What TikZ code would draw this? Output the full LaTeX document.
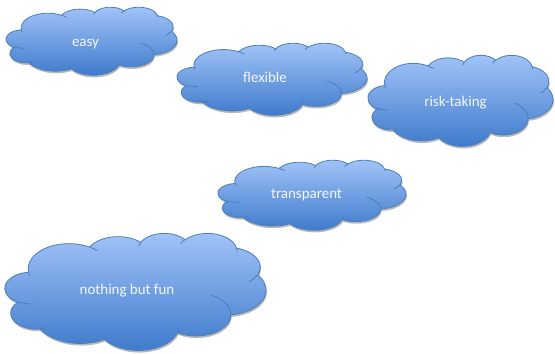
\documentclass[tikz,border=0pt]{standalone}
\usepackage{fontspec}
\setmainfont{Carlito}
\definecolor{cloudtop}{HTML}{A2C4F8}
\definecolor{cloudmid}{HTML}{7EA8EC}
\definecolor{cloudbot}{HTML}{3D79CB}
\definecolor{cloudline}{HTML}{4A7EBB}
\definecolor{cloudtext}{HTML}{F4F7FC}
\def\cloudpath{(3.9,14.37)
 arc[start angle=-187.746, delta angle=128.109, x radius=6.753, y radius=9.19]
 arc[start angle=-152.020, delta angle=106.572, x radius=5.333, y radius=7.267]
 arc[start angle=-153.488, delta angle=116.155, x radius=4.365, y radius=5.945]
 arc[start angle=-139.709, delta angle=129.497, x radius=4.857, y radius=6.595]
 arc[start angle=-74.767, delta angle=97.979, x radius=5.333, y radius=7.273]
 arc[start angle=-37.532, delta angle=119.394, x radius=6.775, y radius=9.22]
 arc[start angle=0.460, delta angle=121.521, x radius=5.785, y radius=7.867]
 arc[start angle=16.845, delta angle=129.410, x radius=6.752, y radius=9.215]
 arc[start angle=58.993, delta angle=91.206, x radius=7.72, y radius=10.543]
 arc[start angle=83.306, delta angle=139.803, x radius=4.36, y radius=5.918]
 arc[start angle=120.356, delta angle=143.756, x radius=4.345, y radius=5.945]
 -- cycle}
\def\cloudinner{(4.693,26.177) arc[start angle=85.546, delta angle=34.810, x radius=4.345, y radius=5.945]
 (6.928,34.899) arc[start angle=68.233, delta angle=15.073, x radius=4.36, y radius=5.918]
 (16.478,39.09) arc[start angle=146.255, delta angle=12.217, x radius=6.752, y radius=9.215]
 (28.827,34.751) arc[start angle=4.738, delta angle=12.107, x radius=6.752, y radius=9.215]
 (34.129,22.954) arc[start angle=-64.024, delta angle=64.484, x radius=5.785, y radius=7.867]
 (41.798,15.354) arc[start angle=23.212, delta angle=26.428, x radius=5.333, y radius=7.273]
 (38.324,5.426) arc[start angle=-10.212, delta angle=11.033, x radius=4.857, y radius=6.595]
 (29.078,3.952) arc[start angle=-156.284, delta angle=16.575, x radius=4.857, y radius=6.595]
 (22.141,4.72) arc[start angle=-167.727, delta angle=14.239, x radius=4.365, y radius=5.945]
 (14.0,5.192) arc[start angle=-59.637, delta angle=13.906, x radius=6.753, y radius=9.19]
 (4.127,15.789) arc[start angle=163.193, delta angle=9.061, x radius=6.753, y radius=9.19]}
\tikzset{
  cloudshadow/.style={fill=black, opacity=0.28},
  cloudbody/.style={top color=cloudtop, middle color=cloudmid, bottom color=cloudbot, draw=cloudline, line width=0.6pt},
  cloudfold/.style={draw=cloudline, line width=0.6pt},
  cloudlabel/.style={text=cloudtext, font=\fontsize{11.2}{13}\selectfont, anchor=base, inner sep=0pt}
}
\newcommand\drawcloud[4]{%
  \pgfmathsetmacro\cwx{#3*0.75/43.2}%
  \pgfmathsetmacro\chy{#4*0.75/43.2}%
  \begin{scope}[shift={(#1,#2)}, x=\cwx pt, y=-\chy pt]
    \fill[cloudshadow, shift={(0.6pt,-1.6pt)}] \cloudpath;
    \path[cloudbody] \cloudpath;
    \path[cloudfold] \cloudinner;
  \end{scope}}
\begin{document}
\begin{tikzpicture}[x=0.75pt, y=-0.75pt]
  \fill[white] (0,0) rectangle (555,353);
  \useasboundingbox (0,0) rectangle (555,353);
  \drawcloud{6}{7}{171}{68}
  \drawcloud{177}{43}{190}{72}
  \drawcloud{368}{55}{185}{91}
  \drawcloud{218}{160}{188}{70}
  \drawcloud{5}{233}{261}{117}
  \node[cloudlabel] (easy) at (85.5,46) {easy};
  \node[cloudlabel] (flexible) at (265,82.5) {flexible};
  \node[cloudlabel] (risk) at (455.5,106) {risk-taking};
  \node[cloudlabel] (transparent) at (306.5,198) {transparent};
  \node[cloudlabel] (fun) at (127,294) {nothing but fun};
\end{tikzpicture}
\end{document}
